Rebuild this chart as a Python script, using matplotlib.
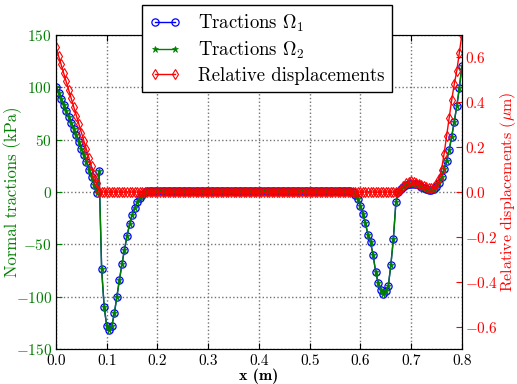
import numpy as np
import matplotlib
matplotlib.use('Agg')
import matplotlib.pyplot as plt

plt.rcParams['font.family'] = ['cmr10', 'DejaVu Serif']
plt.rcParams['mathtext.fontset'] = 'cm'
plt.rcParams['axes.formatter.use_mathtext'] = True

# sampling positions along the interface (m): 161 nodes, 0.005 m apart
x_pos = np.linspace(0.0, 0.8, 161)

# normal tractions, domain Omega_1 (kPa)
traction_omega1 = [
    100, 95, 89, 83, 77, 71.5, 66, 60, 54, 48,
    41.5, 35, 28.5, 21.5, 14.5, 7, -1, 20, -74, -110,
    -128, -132, -128, -116, -100, -84, -69, -55, -42, -31,
    -22, -15, -10, -6, -2.5, 0, 1, 1, 1, 1,
    1, 1, 1, 1, 1, 1, 1, 1, 1, 1,
    1, 1, 1, 1, 1, 1, 1, 1, 1, 1,
    1, 1, 1, 1, 1, 1, 1, 1, 1, 1,
    1, 1, 1, 1, 1, 1, 1, 1, 1, 1,
    1, 1, 1, 1, 1, 1, 1, 1, 1, 1,
    1, 1, 1, 1, 1, 1, 1, 1, 1, 1,
    1, 1, 1, 1, 1, 1, 1, 1, 1, 1,
    1, 1, 1, 1, 1, 1, 0.8, 0, -3, -7,
    -13, -21, -30, -41, -48, -60, -76, -87, -94, -97,
    -95, -90, -70, -45, -10, 0, 3, 5, 6.5, 7.5,
    8, 8, 7.5, 6.5, 5, 4, 3, 2, 2, 3,
    5, 9, 14, 22, 30, 40, 53, 67, 82, 99,
    120,
]

# normal tractions, domain Omega_2 (kPa)
traction_omega2 = [
    100, 95, 89, 83, 77, 71.5, 66, 60, 54, 48,
    41.5, 35, 28.5, 21.5, 14.5, 7, -1, 20, -74, -110,
    -128, -132, -128, -116, -100, -84, -69, -55, -42, -31,
    -22, -15, -10, -6, -2.5, 0, 1, 1, 1, 1,
    1, 1, 1, 1, 1, 1, 1, 1, 1, 1,
    1, 1, 1, 1, 1, 1, 1, 1, 1, 1,
    1, 1, 1, 1, 1, 1, 1, 1, 1, 1,
    1, 1, 1, 1, 1, 1, 1, 1, 1, 1,
    1, 1, 1, 1, 1, 1, 1, 1, 1, 1,
    1, 1, 1, 1, 1, 1, 1, 1, 1, 1,
    1, 1, 1, 1, 1, 1, 1, 1, 1, 1,
    1, 1, 1, 1, 1, 1, 0.8, 0, -3, -7,
    -13, -21, -30, -41, -48, -60, -76, -87, -94, -97,
    -95, -90, -70, -45, -10, 0, 3, 5, 6.5, 7.5,
    8, 8, 7.5, 6.5, 5, 4, 3, 2, 2, 3,
    5, 9, 14, 22, 30, 40, 53, 67, 82, 99,
    120,
]

# relative displacements (micrometres)
rel_disp = [
    0.645, 0.607, 0.569, 0.531, 0.493, 0.455, 0.417, 0.379, 0.341, 0.303,
    0.265, 0.228, 0.190, 0.152, 0.114, 0.076, 0.038, 0.0, 0.0, 0.0,
    0.0, 0.0, 0.0, 0.0, 0.0, 0.0, 0.0, 0.0, 0.0, 0.0,
    0.0, 0.0, 0.0, 0.0, 0.0, 0.0, 0.0, 0.0, 0.0, 0.0,
    0.0, 0.0, 0.0, 0.0, 0.0, 0.0, 0.0, 0.0, 0.0, 0.0,
    0.0, 0.0, 0.0, 0.0, 0.0, 0.0, 0.0, 0.0, 0.0, 0.0,
    0.0, 0.0, 0.0, 0.0, 0.0, 0.0, 0.0, 0.0, 0.0, 0.0,
    0.0, 0.0, 0.0, 0.0, 0.0, 0.0, 0.0, 0.0, 0.0, 0.0,
    0.0, 0.0, 0.0, 0.0, 0.0, 0.0, 0.0, 0.0, 0.0, 0.0,
    0.0, 0.0, 0.0, 0.0, 0.0, 0.0, 0.0, 0.0, 0.0, 0.0,
    0.0, 0.0, 0.0, 0.0, 0.0, 0.0, 0.0, 0.0, 0.0, 0.0,
    0.0, 0.0, 0.0, 0.0, 0.0, 0.0, 0.0, 0.0, 0.0, 0.0,
    0.0, 0.0, 0.0, 0.0, 0.0, 0.0, 0.0, 0.0, 0.0, 0.0,
    0.0, 0.0, 0.0, 0.0, 0.0, 0.0, 0.015, 0.028, 0.038, 0.044,
    0.047, 0.046, 0.042, 0.036, 0.030, 0.025, 0.022, 0.020, 0.020, 0.024,
    0.034, 0.060, 0.100, 0.170, 0.250, 0.330, 0.410, 0.480, 0.540, 0.620,
    0.700,
]

left_ticks = [-150, -100, -50, 0, 50, 100, 150]
right_ticks = [-0.6, -0.4, -0.2, 0.0, 0.2, 0.4, 0.6]
x_ticks = [0.0, 0.1, 0.2, 0.3, 0.4, 0.5, 0.6, 0.7, 0.8]

GREEN = (0.0, 0.5, 0.0)

fig = plt.figure(figsize=(5.17, 3.84), dpi=100)
ax = fig.add_axes([0.1083, 0.0911, 0.785, 0.8177])
ax2 = ax.twinx()

l1, = ax.plot(x_pos, traction_omega1, color='b', lw=1.0, marker='o', ms=5.2,
              mfc='none', mec='b', mew=0.9, label=r'Tractions $\Omega_1$')
l2, = ax.plot(x_pos, traction_omega2, color=GREEN, lw=1.0, marker='*', ms=5.0,
              mfc=GREEN, mec=GREEN, mew=0.5, label=r'Tractions $\Omega_2$')
l3, = ax2.plot(x_pos, rel_disp, color='r', lw=1.0, marker='d', ms=5.0,
               mfc='none', mec='r', mew=0.8, label='Relative displacements')

ax.set_xlim(0, 0.8)
ax.set_ylim(-150, 150)
ax2.set_ylim(-0.7, 0.7)
ax.set_xticks(x_ticks)
ax.set_yticks(left_ticks)
ax2.set_yticks(right_ticks)
ax.set_xticklabels([f'{v:.1f}' for v in x_ticks])
ax2.set_yticklabels([r'$%s$' % f'{v:.1f}' for v in right_ticks])
ax.set_yticklabels([r'$%d$' % v for v in left_ticks])

ax.grid(True, linestyle=':', color='0.45', lw=1.0)
ax.tick_params(axis='x', direction='in', top=True, labelsize=11, colors='k',
               length=4, pad=3.5)
ax.tick_params(axis='y', direction='in', labelsize=11, colors=GREEN, length=4, pad=3)
ax2.tick_params(axis='y', direction='in', labelsize=11, colors='r', length=4, pad=2)

ax.set_xlabel('x (m)', family=['cmb10', 'DejaVu Serif'], fontsize=11.5, labelpad=1)
ax.set_ylabel('Normal tractions (kPa)', color=GREEN, fontsize=12)
ax2.set_ylabel(r'Relative displacements ($\mu$m)', color='r', fontsize=11.5)
# place axis titles where the reference has them (axes-fraction coordinates)
ax.yaxis.set_label_coords(-0.083, 0.5)
ax2.yaxis.set_label_coords(1.088, 0.5)

leg = fig.legend(handles=[l1, l2, l3], loc='upper center',
                 bbox_to_anchor=(0.516, 0.997), bbox_transform=fig.transFigure,
                 fontsize=13.5, numpoints=2, handlelength=1.7, fancybox=False,
                 framealpha=1.0, edgecolor='k', borderaxespad=0.2,
                 labelspacing=0.32, handletextpad=0.9)
leg.get_frame().set_linewidth(1.0)

fig.savefig('out.png', dpi=100)
